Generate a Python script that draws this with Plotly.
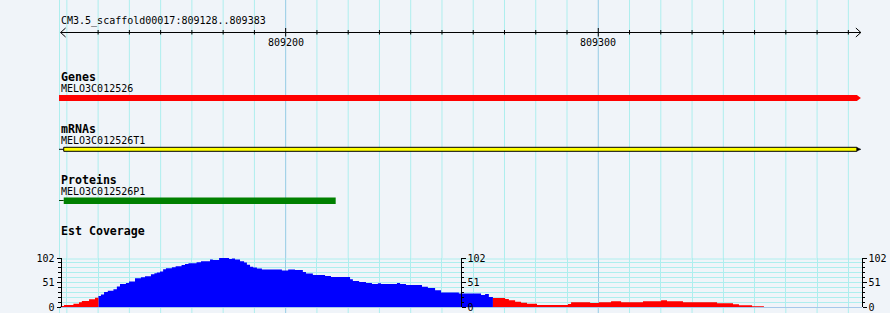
import plotly.graph_objects as go

# ---------------- data ----------------
region_label = "CM3.5_scaffold00017:809128..809383"
region_start = 809128
region_end = 809384          # exclusive end of the displayed region
scale_label_pos = [809200, 809300]
scale_label_text = ["809200", "809300"]
scale_step = 10

track_titles = ["Genes", "mRNAs", "Proteins", "Est Coverage"]
feature_names = ["MELO3C012526", "MELO3C012526T1", "MELO3C012526P1"]
feature_starts = [809127.5, 809129.0, 809129.0]
feature_ends = [809384.0, 809384.0, 809216.0]
feature_colors = ["#ff0000", "#ffff00", "#008000"]

# EST coverage: bin start offsets (bp from region start) and depth
cov_offsets = [0.0, 1.1, 4.1, 5.9, 6.8, 9.1, 11.0, 12.1, 12.9, 13.9,
               15.1, 16.9, 18.0, 19.0, 20.9, 21.9, 23.8, 25.7, 27.0, 28.9,
               30.0, 30.8, 31.8, 32.8, 33.7, 35.6, 36.8, 38.7, 39.8, 40.9,
               43.5, 44.9, 47.8, 48.7, 50.7, 53.9, 54.8, 55.8, 57.4, 58.7,
               59.6, 60.6, 61.6, 62.8, 64.4, 70.8, 72.8, 75.0, 77.5, 78.5,
               80.7, 84.6, 86.5, 92.6, 93.5, 95.5, 97.7, 99.6, 101.5, 102.5,
               107.6, 108.6, 110.5, 115.6, 117.5, 119.8, 121.7, 127.4, 134.5, 135.8,
               137.0, 138.3, 142.2, 143.4, 145.4, 147.3, 149.2, 152.4, 162.3, 163.3,
               169.4, 172.2, 176.1, 179.3, 186.3, 192.1, 194.0, 199.1, 210.0, 215.1,
               217.0, 221.2]
cov_end_offset = 225.0
cov_values = [2, 4, 7, 10, 12.5, 16, 19, 23, 26, 31,
              34, 37, 42.5, 48, 50, 53, 60, 62, 64, 68,
              70, 72, 74, 78.5, 80.5, 82.5, 85, 87.5, 89.5, 91,
              93, 95, 99, 98, 102, 100, 101, 98.7, 95, 92.4,
              88, 84, 82, 80, 78, 76, 78, 77, 73, 69.5,
              66.7, 64.5, 62.5, 57.7, 54, 52, 50, 48, 49.5, 48,
              50, 48, 46, 42.4, 39.6, 34.8, 30, 28, 25, 27,
              21, 18.7, 16.7, 14, 11, 9, 7, 4, 6, 9.8,
              8.3, 9.8, 12, 9.8, 12, 14, 12, 9.8, 7.7, 5.6,
              3.5, 1.5]
cov_max = 102
cov_ticks = [0, 51, 102]
cov_minor_step = 10.2
low_cov_threshold = 20
assert len(cov_offsets) == len(cov_values)

# ---------------- layout constants ----------------
W, H = 890, 313
BG = "#f0f4f9"
GRID = "#aeeeee"
GRID_MAJOR = "#95cbe5"
ZERO = "#a6c8ea"
MONO = "DejaVu Sans Mono"
PX_PER_BP = 3.126
X0_PX = 60.6
COV_Y0, COV_Y1 = 307.0, 258.0   # pixel rows of depth 0 and depth max
COV_X0, COV_X1 = 60.0, 862.0     # pixel columns spanned by the coverage panel

xa = region_start - X0_PX / PX_PER_BP
xb = xa + W / PX_PER_BP


def px2bp(px):
    return xa + px / PX_PER_BP


def py2val(py):
    return (COV_Y0 - py) * cov_max / (COV_Y0 - COV_Y1)


shapes = []
annotations = []


def line(x0, x1, y0, y1, color, width=1, yref="y", xref="x", layer="below"):
    shapes.append(dict(type="line", xref=xref, yref=yref, x0=x0, x1=x1, y0=y0, y1=y1,
                       line=dict(color=color, width=width), layer=layer))


def text(px, py, s, bold=False, size=None, xanchor="left"):
    annotations.append(dict(
        xref="paper", yref="y", x=px / W, y=py, text=("<b>%s</b>" % s) if bold else s,
        showarrow=False, xanchor=xanchor, yanchor="middle", borderpad=0,
        font=dict(family=MONO, size=size or (11.6 if bold else 10), color="black")))


# vertical grid outside the coverage panel (inside it, axis gridlines are used)
grid_bp = list(range(region_start + (scale_step - region_start % scale_step), region_end, scale_step))
grid_major = [bp for bp in grid_bp if bp % 100 == 0]
grid_minor = [bp for bp in grid_bp if bp % 100 != 0]
for bp in [px2bp(59.5)] + grid_bp:
    col = GRID_MAJOR if bp in grid_major else GRID
    line(bp, bp, 0, COV_Y1, col)
    line(bp, bp, COV_Y0 + 0.5, H, col)

# scale bar
SY = 32.5
shapes.append(dict(type="line", xref="x", yref="y", x0=region_start, x1=region_end,
                   y0=SY, y1=SY, line=dict(color="black", width=1)))
ah = 5 / PX_PER_BP
shapes.append(dict(type="path", xref="x", yref="y",
                   path="M %f,%f L %f,%f L %f,%f" % (region_start + ah, SY - 4.5, region_start, SY,
                                                      region_start + ah, SY + 4.5),
                   line=dict(color="black", width=1)))
shapes.append(dict(type="path", xref="x", yref="y",
                   path="M %f,%f L %f,%f L %f,%f" % (region_end - ah, SY - 4.5, region_end, SY,
                                                      region_end - ah, SY + 4.5),
                   line=dict(color="black", width=1)))
for bp in grid_bp[1:]:
    if bp in scale_label_pos:
        y0, y1 = SY - 4.5, SY + 4
    else:
        y0, y1 = SY - 2.5, SY + 2
    shapes.append(dict(type="line", xref="x", yref="y", x0=bp, x1=bp, y0=y0, y1=y1,
                       line=dict(color="black", width=1)))
for bp, lab in zip(scale_label_pos, scale_label_text):
    annotations.append(dict(xref="x", yref="y", x=bp, y=42.5, text=lab, showarrow=False,
                            xanchor="center", yanchor="middle", borderpad=0,
                            font=dict(family=MONO, size=10, color="black")))

# titles / labels
text(59.5, 21.3, region_label)
text(59.5, 76.5, track_titles[0], bold=True)
text(59.5, 88.7, feature_names[0])
text(59.5, 128.5, track_titles[1], bold=True)
text(59.5, 140.8, feature_names[1])
text(59.5, 179.7, track_titles[2], bold=True)
text(59.5, 191.7, feature_names[2])
text(59.5, 231.3, track_titles[3], bold=True)

# gene (red arrow)
tip = 4 / PX_PER_BP
g0, g1 = feature_starts[0], feature_ends[0]
shapes.append(dict(type="path", xref="x", yref="y",
                   path="M %f,95 L %f,95 L %f,98 L %f,101 L %f,101 Z" % (g0, g1 - tip, g1, g1 - tip, g0),
                   fillcolor=feature_colors[0], line=dict(width=0)))

# mRNA (yellow box with outline)
m0, m1 = feature_starts[1], feature_ends[1]
shapes.append(dict(type="line", xref="x", yref="y", x0=feature_starts[0], x1=m0, y0=149.3, y1=149.3,
                   line=dict(color="black", width=1)))
shapes.append(dict(type="path", xref="x", yref="y",
                   path="M %f,149.3 L %f,147.5 L %f,151.1 Z" % (m1, m1 - tip, m1 - tip),
                   fillcolor="black", line=dict(color="black", width=0.5)))
shapes.append(dict(type="rect", xref="x", yref="y", x0=m0, x1=m1 - tip, y0=147.3, y1=151.3,
                   fillcolor=feature_colors[1], line=dict(color="black", width=1)))

# protein (green box)
p0, p1 = feature_starts[2], feature_ends[2]
shapes.append(dict(type="line", xref="x", yref="y", x0=feature_starts[0], x1=p0, y0=200.5, y1=200.5,
                   line=dict(color="#004000", width=1)))
shapes.append(dict(type="rect", xref="x", yref="y", x0=p0, x1=p1, y0=197.5, y1=204,
                   fillcolor=feature_colors[2], line=dict(width=0)))

# extra thickness of the top coverage gridline (between gridlines and data)
line(px2bp(COV_X0), px2bp(COV_X1), py2val(COV_Y1 + 1), py2val(COV_Y1 + 1), GRID,
     xref="x2", yref="y2", layer="between")

# ---------------- traces ----------------
starts = [region_start + o for o in cov_offsets]
cov_end = region_start + cov_end_offset

fig = go.Figure()
for col, is_low in (("#0000ff", False), ("#ff0000", True)):
    xs = list(starts) + [cov_end]
    ys = [v if ((v < low_cov_threshold) == is_low) else 0 for v in cov_values]
    ys = ys + [ys[-1]]
    fig.add_trace(go.Scatter(x=xs, y=ys, xaxis="x2", yaxis="y2", mode="lines",
                             line=dict(shape="hv", width=0, color=col),
                             fill="tozeroy", fillcolor=col, opacity=1,
                             hoverinfo="skip", showlegend=False))
fig.add_trace(go.Scatter(x=[None], y=[None], xaxis="x", yaxis="y", showlegend=False))
fig.add_trace(go.Scatter(x=[None], y=[None], xaxis="x2", yaxis="y3", showlegend=False))
fig.add_trace(go.Scatter(x=[None], y=[None], xaxis="x2", yaxis="y4", showlegend=False))

dom0 = (H - COV_Y0) / H
dom1 = (H - COV_Y1) / H
minor_vals = [i * cov_minor_step for i in range(int(round(cov_max / cov_minor_step)) + 1)]


def cov_axis(pos_px, side, overlay=None):
    d = dict(domain=[dom0, dom1], range=[0, cov_max], anchor="free", position=pos_px / W,
             side=side, showline=True, linecolor="black", linewidth=1, automargin=False,
             ticks="outside", ticklen=4, tickwidth=1, tickcolor="black",
             tickvals=cov_ticks, ticktext=[str(t) for t in cov_ticks],
             minor=dict(ticks="outside", ticklen=2.5, tickwidth=1, tickcolor="black",
                        tickvals=minor_vals, showgrid=False),
             showgrid=False, zeroline=False, fixedrange=True,
             tickfont=dict(family=MONO, size=10, color="black"))
    if overlay:
        d["overlaying"] = overlay
    else:
        d.update(showgrid=True, gridcolor=GRID, gridwidth=1,
                 zeroline=True, zerolinecolor=ZERO, zerolinewidth=1)
        d["minor"].update(showgrid=True, gridcolor=GRID, gridwidth=1)
    return d


fig.update_layout(
    width=W, height=H, margin=dict(l=0, r=0, t=0, b=0, autoexpand=False),
    paper_bgcolor=BG, plot_bgcolor=BG, showlegend=False,
    xaxis=dict(range=[xa, xb], domain=[0, 1], visible=False, fixedrange=True, automargin=False),
    yaxis=dict(range=[H, 0], domain=[0, 1], visible=False, fixedrange=True, automargin=False),
    xaxis2=dict(range=[px2bp(COV_X0), px2bp(COV_X1)], domain=[COV_X0 / W, COV_X1 / W],
                anchor="y2", automargin=False, fixedrange=True,
                showline=False, zeroline=False, ticks="", showticklabels=False,
                tickvals=grid_major, showgrid=True, gridcolor=GRID_MAJOR, gridwidth=1,
                minor=dict(tickvals=grid_minor, showgrid=True, gridcolor=GRID, gridwidth=1, ticks="")),
    yaxis2=cov_axis(60.5, "left"),
    yaxis3=cov_axis(460.5, "right", "y2"),
    yaxis4=cov_axis(861.5, "right", "y2"),
    shapes=shapes,
    annotations=annotations,
)

fig.write_html("out.html", config={"displayModeBar": False})
